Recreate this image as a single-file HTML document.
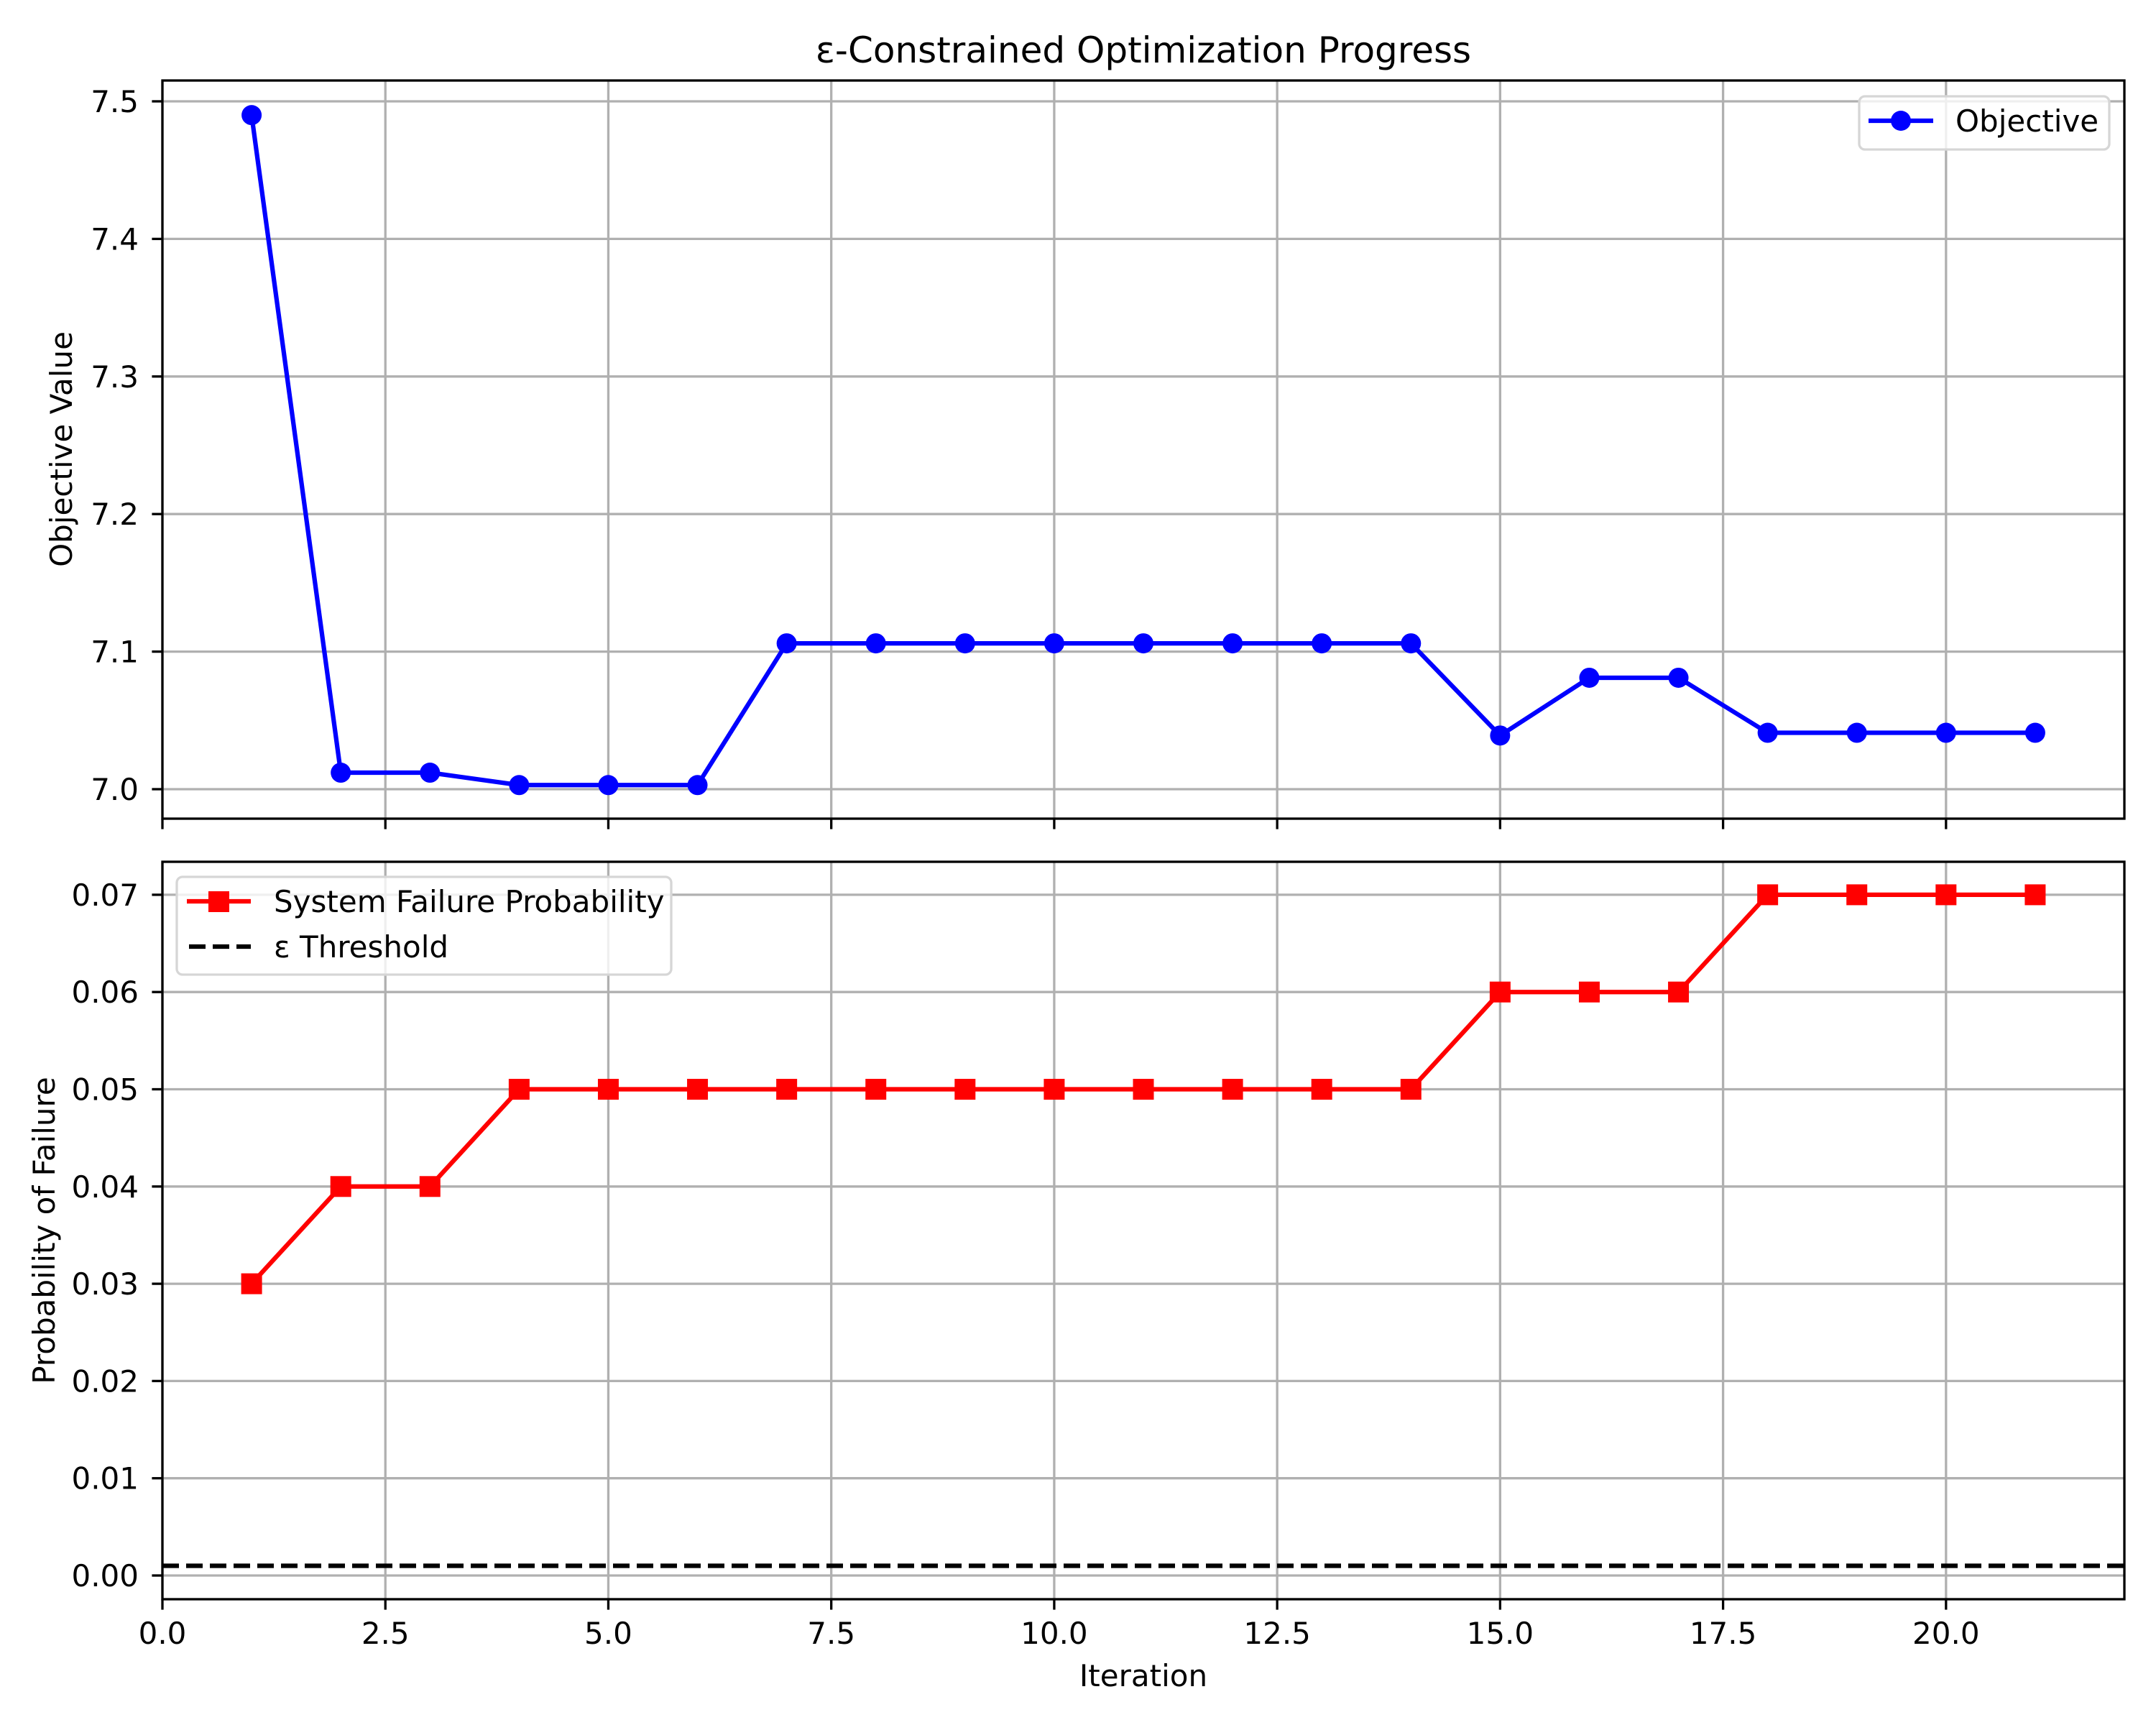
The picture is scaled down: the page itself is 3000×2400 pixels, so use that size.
<!DOCTYPE html>
<html><head><meta charset="utf-8"><style>
html,body{margin:0;padding:0;background:#fff}
svg{display:block;font-family:"DejaVu Sans","Liberation Sans",sans-serif}
</style></head><body>
<svg id="fig" width="3000" height="2400" viewBox="0 0 3000 2400" xmlns="http://www.w3.org/2000/svg">
<rect width="3000" height="2400" fill="#fff"/>
<text x="1591" y="87" font-size="50" text-anchor="middle">ε-Constrained Optimization Progress</text>
<g id="topPanel"></g>
<g id="botPanel"></g>
<text x="1591" y="2346" font-size="42" text-anchor="middle">Iteration</text>
<text transform="translate(100,625) rotate(-90)" font-size="42" text-anchor="middle">Objective Value</text>
<text transform="translate(76,1712) rotate(-90)" font-size="42" text-anchor="middle">Probability of Failure</text>
</svg>
<script>
const iterations = [1,2,3,4,5,6,7,8,9,10,11,12,13,14,15,16,17,18,19,20,21];
const objectiveValues = [7.490,7.012,7.012,7.003,7.003,7.003,7.106,7.106,7.106,7.106,7.106,7.106,7.106,7.106,7.039,7.081,7.081,7.041,7.041,7.041,7.041];
const failureValues = [0.03,0.04,0.04,0.05,0.05,0.05,0.05,0.05,0.05,0.05,0.05,0.05,0.05,0.05,0.06,0.06,0.06,0.07,0.07,0.07,0.07];
const epsilonThreshold = 0.001;
const xTicks = [0,2.5,5,7.5,10,12.5,15,17.5,20];
const xTickLabels = ["0.0","2.5","5.0","7.5","10.0","12.5","15.0","17.5","20.0"];
const objTicks = [7.0,7.1,7.2,7.3,7.4,7.5];
const objTickLabels = ["7.0","7.1","7.2","7.3","7.4","7.5"];
const failTicks = [0,0.01,0.02,0.03,0.04,0.05,0.06,0.07];
const failTickLabels = ["0.00","0.01","0.02","0.03","0.04","0.05","0.06","0.07"];

const NS="http://www.w3.org/2000/svg";
function mk(parent,tag,attrs){const e=document.createElementNS(NS,tag);for(const k in attrs)e.setAttribute(k,attrs[k]);parent.appendChild(e);return e;}
const L=226,R=2956;
const xS=v=>L+(v-0)/(22-0)*(R-L);
const T1=112,B1=1139; const yObj=v=>1098-(v-7.0)*1914;
const T2=1199,B2=2225; const yFail=v=>2192-v*13530;

function axes(g,t0,b0,yS,ticks,labels,showXLabels){
  xTicks.forEach((t,i)=>{
    const gl=mk(g,'line',{x1:xS(t),x2:xS(t),y1:t0,y2:b0,stroke:'#b0b0b0','stroke-width':3.3});
    
    
    const tk=mk(g,'line',{x1:xS(t),x2:xS(t),y1:b0,y2:b0+14.6,stroke:'#000','stroke-width':3.3});
    
    
    if(showXLabels){
      const tx=mk(g,'text',{x:xS(t),y:b0+62,'font-size':42,'text-anchor':'middle'});
      tx.textContent=xTickLabels[i];
      
      
    }
  });
  ticks.forEach((t,i)=>{
    const y=yS(t);
    const gl=mk(g,'line',{x1:L,x2:R,y1:y,y2:y,stroke:'#b0b0b0','stroke-width':3.3});
    
    
    const tk=mk(g,'line',{x1:L-14.6,x2:L,y1:y,y2:y,stroke:'#000','stroke-width':3.3});
    
    
    const tx=mk(g,'text',{x:193,y:y+15,'font-size':42,'text-anchor':'end'});
    tx.textContent=labels[i];
    
    
  });
}
const topPanel=document.getElementById('topPanel'), botPanel=document.getElementById('botPanel');
axes(topPanel,T1,B1,yObj,objTicks,objTickLabels,false);
axes(botPanel,T2,B2,yFail,failTicks,failTickLabels,true);

const objLine=mk(topPanel,'polyline',{points:iterations.map((x,i)=>xS(x)+','+yObj(objectiveValues[i])).join(' '),fill:'none',stroke:'#0000ff','stroke-width':6.25,'stroke-linejoin':'round'});


iterations.forEach((x,i)=>{
  const c=mk(topPanel,'circle',{cx:xS(x),cy:yObj(objectiveValues[i]),r:14,fill:'#0000ff'});
  
  
});
const thr=mk(botPanel,'line',{x1:L,x2:R,y1:yFail(epsilonThreshold),y2:yFail(epsilonThreshold),stroke:'#000','stroke-width':6.25,'stroke-dasharray':'23 10'});


const fLine=mk(botPanel,'polyline',{points:iterations.map((x,i)=>xS(x)+','+yFail(failureValues[i])).join(' '),fill:'none',stroke:'#ff0000','stroke-width':6.25,'stroke-linejoin':'round'});


iterations.forEach((x,i)=>{
  const s=mk(botPanel,'rect',{x:xS(x)-14.5,y:yFail(failureValues[i])-14.5,width:29,height:29,fill:'#ff0000'});
  
  
});
[[topPanel,T1,B1],[botPanel,T2,B2]].forEach(([g,t,b])=>{
  const f=mk(g,'rect',{x:L,y:t,width:R-L,height:b-t,fill:'none',stroke:'#000','stroke-width':3.3});
  
  
});
const lg1=mk(topPanel,'g',{});


mk(lg1,'rect',{x:2587,y:134,width:348,height:74,rx:8,fill:'#fff','fill-opacity':0.8,stroke:'#d6d6d6','stroke-width':3.3});
mk(lg1,'line',{x1:2600,x2:2690,y1:168,y2:168,stroke:'#0000ff','stroke-width':6.25});
mk(lg1,'circle',{cx:2645,cy:168,r:14,fill:'#0000ff'});
const t1=mk(lg1,'text',{x:2721,y:183,'font-size':42}); t1.textContent='Objective';

const lg2=mk(botPanel,'g',{});


mk(lg2,'rect',{x:246,y:1220,width:688,height:136,rx:8,fill:'#fff','fill-opacity':0.8,stroke:'#d6d6d6','stroke-width':3.3});
mk(lg2,'line',{x1:260,x2:349,y1:1254,y2:1254,stroke:'#ff0000','stroke-width':6.25});
mk(lg2,'rect',{x:290,y:1240,width:29,height:29,fill:'#ff0000'});
const t2=mk(lg2,'text',{x:381,y:1269,'font-size':42}); t2.textContent='System Failure Probability';
mk(lg2,'line',{x1:263,x2:349,y1:1317,y2:1317,stroke:'#000','stroke-width':6.25,'stroke-dasharray':'23 10'});
const t3=mk(lg2,'text',{x:381,y:1332,'font-size':42}); t3.textContent='ε Threshold';
</script>
</body></html>
